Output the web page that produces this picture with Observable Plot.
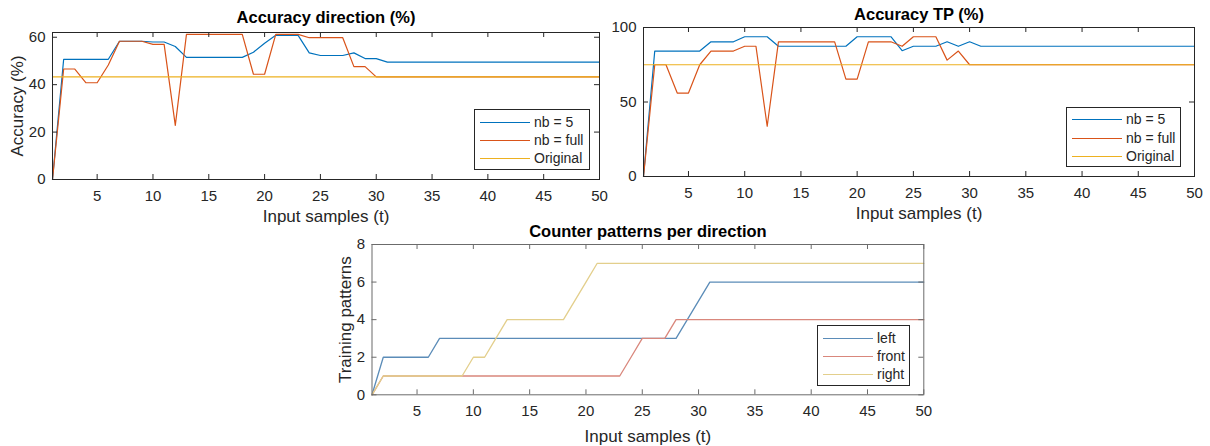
<!DOCTYPE html>
<html>
<head>
<meta charset="utf-8">
<script src="https://cdn.jsdelivr.net/npm/d3@7"></script>
<script src="https://cdn.jsdelivr.net/npm/@observablehq/plot@0.6"></script>
<style>
  html, body { margin: 0; padding: 0; background: #fff; }
  #root { position: relative; width: 1210px; height: 446px; overflow: hidden; font-family: "Liberation Sans", Arial, sans-serif; }
  .panel { position: absolute; }
  .legend { position: absolute; background: #fff; border: 1px solid #262626; box-sizing: border-box; font-size: 14px; color: #262626; }
  .legend .row { position: absolute; left: 0; height: 18px; display: flex; align-items: center; }
  .legend .sw { width: 50px; height: 0; border-top: 1.5px solid; margin-left: 5px; margin-right: 4px; }
</style>
</head>
<body>
<div id="root"></div>
<script>
// ---------- Data ----------
const samples = d3.range(1, 51); // input samples t = 1..50

// Accuracy direction (%)
const dirNb5 = [0, 50.7, 50.7, 50.7, 50.7, 50.7, 58.3, 58.3, 58.3, 58.0,
                58.0, 56.1, 51.5, 51.5, 51.5, 51.5, 51.5, 51.5, 53.7, 57.5,
                60.8, 60.8, 60.8, 53.4, 52.3, 52.3, 52.3, 53.4, 51.0, 51.0,
                49.5, 49.5, 49.5, 49.5, 49.5, 49.5, 49.5, 49.5, 49.5, 49.5,
                49.5, 49.5, 49.5, 49.5, 49.5, 49.5, 49.5, 49.5, 49.5, 49.5];
const dirFull = [0, 46.6, 46.6, 40.8, 40.8, 48.3, 58.3, 58.3, 58.3, 57.0,
                 57.0, 22.8, 61.2, 61.2, 61.2, 61.2, 61.2, 61.2, 44.4, 44.4,
                 61.2, 61.2, 61.2, 59.8, 59.8, 59.8, 59.8, 47.6, 47.6, 43.3,
                 43.3, 43.3, 43.3, 43.3, 43.3, 43.3, 43.3, 43.3, 43.3, 43.3,
                 43.3, 43.3, 43.3, 43.3, 43.3, 43.3, 43.3, 43.3, 43.3, 43.3];
const dirOriginal = 43.3;

// Accuracy TP (%)
const tpNb5 = [0, 84.2, 84.2, 84.2, 84.2, 84.2, 90.4, 90.4, 90.4, 93.8,
               93.8, 93.8, 87.4, 87.4, 87.4, 87.4, 87.4, 87.4, 87.4, 93.8,
               93.8, 93.8, 93.8, 84.4, 87.4, 87.4, 87.4, 90.4, 87.4, 90.4,
               87.4, 87.4, 87.4, 87.4, 87.4, 87.4, 87.4, 87.4, 87.4, 87.4,
               87.4, 87.4, 87.4, 87.4, 87.4, 87.4, 87.4, 87.4, 87.4, 87.4];
const tpFull = [0, 75.0, 75.0, 56.0, 56.0, 75.0, 84.2, 84.2, 84.2, 87.4,
                87.4, 33.7, 90.4, 90.4, 90.4, 90.4, 90.4, 90.4, 65.4, 65.4,
                90.4, 90.4, 90.4, 87.4, 93.8, 93.8, 93.8, 78.1, 84.2, 75.0,
                75.0, 75.0, 75.0, 75.0, 75.0, 75.0, 75.0, 75.0, 75.0, 75.0,
                75.0, 75.0, 75.0, 75.0, 75.0, 75.0, 75.0, 75.0, 75.0, 75.0];
const tpOriginal = 75.0;

// Counter patterns per direction
const cntLeft  = [0, 2, 2, 2, 2, 2, 3, 3, 3, 3,  3, 3, 3, 3, 3, 3, 3, 3, 3, 3,
                  3, 3, 3, 3, 3, 3, 3, 3, 4, 5,  6, 6, 6, 6, 6, 6, 6, 6, 6, 6,
                  6, 6, 6, 6, 6, 6, 6, 6, 6, 6];
const cntFront = [0, 1, 1, 1, 1, 1, 1, 1, 1, 1,  1, 1, 1, 1, 1, 1, 1, 1, 1, 1,
                  1, 1, 1, 2, 3, 3, 3, 4, 4, 4,  4, 4, 4, 4, 4, 4, 4, 4, 4, 4,
                  4, 4, 4, 4, 4, 4, 4, 4, 4, 4];
const cntRight = [0, 1, 1, 1, 1, 1, 1, 1, 1, 2,  2, 3, 4, 4, 4, 4, 4, 4, 5, 6,
                  7, 7, 7, 7, 7, 7, 7, 7, 7, 7,  7, 7, 7, 7, 7, 7, 7, 7, 7, 7,
                  7, 7, 7, 7, 7, 7, 7, 7, 7, 7];

const xTicks = [5, 10, 15, 20, 25, 30, 35, 40, 45, 50];
const yTicksDir = [0, 20, 40, 60];
const yTicksTP = [0, 50, 100];
const yTicksCnt = [0, 2, 4, 6, 8];

const accLabels = ["nb = 5", "nb = full", "Original"];
const cntLabels = ["left", "front", "right"];

const accColors = ["#0072BD", "#D95319", "#EDB120"];
const cntColors = ["#5b8cb8", "#d9877c", "#e3cf8c"];

// ---------- Helpers ----------
const FONT = "Liberation Sans, Arial, sans-serif";
const INK = "#262626";

function toRows(ys) { return samples.map((t, i) => ({t, v: ys[i]})); }

function panel(opts) {
  const {width, height, ml, mr, mt, mb, ydomain, yticks, series, title, titleDy,
         xlabel, xlabelDy, ylabel, ylabelDx, frameColor, sw} = opts;
  const ph = height - mt - mb, pw = width - ml - mr;
  const marks = [];
  series.forEach(s => {
    marks.push(Plot.line(s.rows, {x: "t", y: "v", stroke: s.color, strokeWidth: sw, curve: "linear"}));
  });
  // inward ticks on all four sides (box on)
  const tk = 5;
  marks.push(Plot.tickX(xTicks, {x: d => d, insetTop: ph - tk, stroke: frameColor, strokeWidth: 1}));
  marks.push(Plot.tickX(xTicks, {x: d => d, insetBottom: ph - tk, stroke: frameColor, strokeWidth: 1}));
  marks.push(Plot.tickY(yticks, {y: d => d, insetRight: pw - tk, stroke: frameColor, strokeWidth: 1}));
  marks.push(Plot.tickY(yticks, {y: d => d, insetLeft: pw - tk, stroke: frameColor, strokeWidth: 1}));
  marks.push(Plot.frame({stroke: frameColor, strokeWidth: 1}));
  marks.push(Plot.axisX({ticks: xTicks, tickSize: 0, tickPadding: 11, label: null, fontSize: 15, color: INK}));
  marks.push(Plot.axisY({ticks: yticks, tickSize: 0, tickPadding: 7, label: null, fontSize: 15, color: INK}));
  marks.push(Plot.text([title], {frameAnchor: "top", dy: titleDy, text: d => d, fontSize: 16.5, fontWeight: "bold", fill: "#000", lineAnchor: "middle", textAnchor: "middle"}));
  marks.push(Plot.text([xlabel], {frameAnchor: "bottom", dy: xlabelDy, text: d => d, fontSize: 17, fill: INK, lineAnchor: "middle", textAnchor: "middle"}));
  if (ylabel) marks.push(Plot.text([ylabel], {frameAnchor: "left", dx: ylabelDx, rotate: -90, text: d => d, fontSize: 17, fill: INK, lineAnchor: "middle", textAnchor: "middle"}));
  return Plot.plot({
    width, height,
    marginLeft: ml, marginRight: mr, marginTop: mt, marginBottom: mb,
    style: {fontFamily: FONT, color: INK, background: "transparent", overflow: "visible"},
    x: {domain: [1, 50]},
    y: {domain: ydomain},
    marks
  });
}

function place(el, left, top) {
  el.classList.add("panel");
  el.style.left = left + "px";
  el.style.top = top + "px";
  document.getElementById("root").appendChild(el);
}

function legend(labels, colors, box, rowYs, thick) {
  const d = document.createElement("div");
  d.className = "legend";
  d.style.left = box[0] + "px"; d.style.top = box[1] + "px";
  d.style.width = (box[2] - box[0]) + "px"; d.style.height = (box[3] - box[1]) + "px";
  labels.forEach((lab, i) => {
    const r = document.createElement("div");
    r.className = "row";
    r.style.top = (rowYs[i] - box[1] - 9) + "px";
    const s = document.createElement("div");
    s.className = "sw";
    s.style.borderTopColor = colors[i];
    s.style.borderTopWidth = thick + "px";
    const t = document.createElement("span");
    t.textContent = lab;
    r.appendChild(s); r.appendChild(t);
    d.appendChild(r);
  });
  document.getElementById("root").appendChild(d);
}

// ---------- Panel A: Accuracy direction ----------
const pA = panel({
  width: 605, height: 230, ml: 52, mr: 6, mt: 32, mb: 51,
  ydomain: [0, 62], yticks: yTicksDir,
  series: [
    {rows: toRows(dirNb5), color: accColors[0]},
    {rows: toRows(dirFull), color: accColors[1]},
    {rows: samples.map(t => ({t, v: dirOriginal})), color: accColors[2]}
  ],
  title: "Accuracy direction (%)", titleDy: -15,
  xlabel: "Input samples (t)", xlabelDy: 37,
  ylabel: "Accuracy (%)", ylabelDx: -35,
  frameColor: INK, sw: 1.2
});
place(pA, 0, 0);
legend(accLabels, accColors, [474, 109, 590, 170], [121, 139, 157], 1.5);

// ---------- Panel B: Accuracy TP ----------
const pB = panel({
  width: 605, height: 230, ml: 38, mr: 16, mt: 27, mb: 54,
  ydomain: [0, 100], yticks: yTicksTP,
  series: [
    {rows: toRows(tpNb5), color: accColors[0]},
    {rows: toRows(tpFull), color: accColors[1]},
    {rows: samples.map(t => ({t, v: tpOriginal})), color: accColors[2]}
  ],
  title: "Accuracy TP (%)", titleDy: -13,
  xlabel: "Input samples (t)", xlabelDy: 37,
  ylabel: null, ylabelDx: 0,
  frameColor: INK, sw: 1.2
});
place(pB, 605, 0);
legend(accLabels, accColors, [1066, 107, 1181, 167], [118, 137, 155], 1.5);

// ---------- Panel C: Counter patterns per direction ----------
const pC = panel({
  width: 640, height: 224, ml: 71.5, mr: 16.7, mt: 22, mb: 51.7,
  ydomain: [0, 8], yticks: yTicksCnt,
  series: [
    {rows: toRows(cntLeft), color: cntColors[0]},
    {rows: toRows(cntFront), color: cntColors[1]},
    {rows: toRows(cntRight), color: cntColors[2]}
  ],
  title: "Counter patterns per direction", titleDy: -13,
  xlabel: "Input samples (t)", xlabelDy: 42,
  ylabel: "Training patterns", ylabelDx: -26.5,
  frameColor: "#6b6b6b", sw: 1.3
});
place(pC, 300, 222);
legend(cntLabels, cntColors, [817, 325, 910, 386], [337, 355, 373], 1.5);
</script>
</body>
</html>
